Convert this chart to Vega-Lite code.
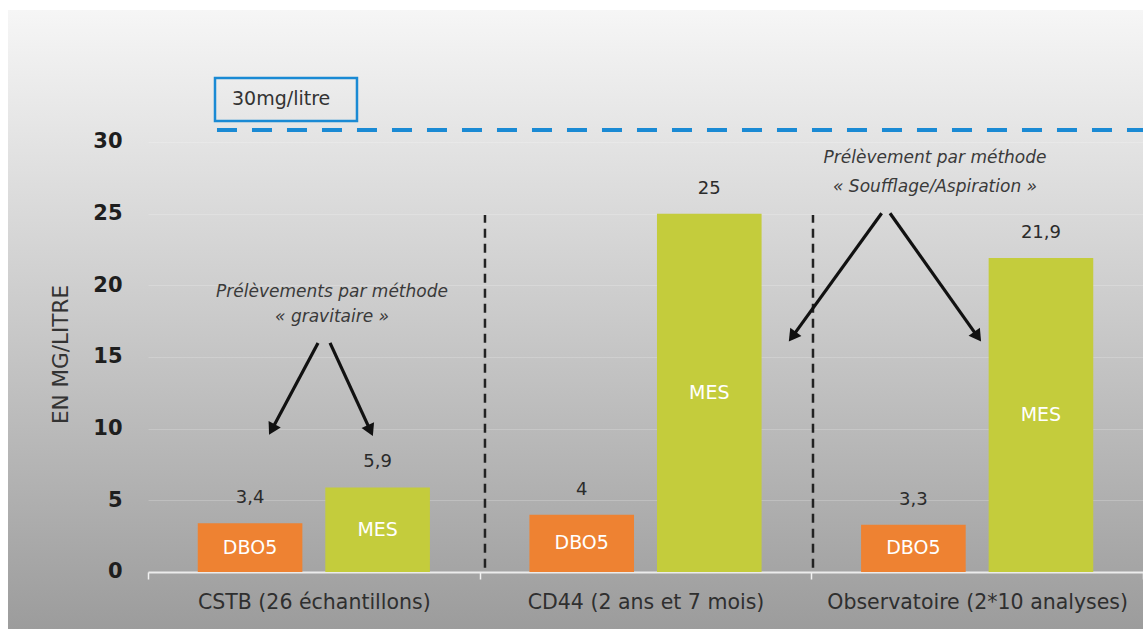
{
  "$schema": "https://vega.github.io/schema/vega-lite/v6.json",
  "width": 1135,
  "height": 619,
  "autosize": {"type": "none"},
  "padding": {"left": 8, "top": 10, "right": 0, "bottom": 0},
  "background": "#ffffff",
  "config": {
    "view": {
      "stroke": null,
      "fill": {
        "gradient": "linear", "x1": 0, "y1": 0, "x2": 0, "y2": 1,
        "stops": [
          {"offset": 0, "color": "#f6f6f6"},
          {"offset": 0.5, "color": "#cacaca"},
          {"offset": 1, "color": "#9c9c9c"}
        ]
      }
    },
    "font": "DejaVu Sans",
    "locale": {"number": {"decimal": ",", "thousands": " ", "grouping": [3], "currency": ["", " €"]}}
  },
  "datasets": {
    "bars": [
      {"site": "CSTB (26 échantillons)", "param": "DBO5", "value": 3.4},
      {"site": "CSTB (26 échantillons)", "param": "MES", "value": 5.9},
      {"site": "CD44 (2 ans et 7 mois)", "param": "DBO5", "value": 4},
      {"site": "CD44 (2 ans et 7 mois)", "param": "MES", "value": 25},
      {"site": "Observatoire (2*10 analyses)", "param": "DBO5", "value": 3.3},
      {"site": "Observatoire (2*10 analyses)", "param": "MES", "value": 21.9}
    ],
    "vlines": [
      {"x": 1.016, "y": 0.3, "y2": 24.9},
      {"x": 2.005, "y": 0.3, "y2": 24.9}
    ],
    "arrows": [
      {"x": 0.5126, "y": 15.98, "x2": 0.3763, "y2": 10.07, "angle": 208},
      {"x": 0.5488, "y": 15.98, "x2": 0.6678, "y2": 10.0, "angle": 155},
      {"x": 2.212, "y": 25.03, "x2": 1.9462, "y2": 16.53, "angle": 216},
      {"x": 2.2372, "y": 25.03, "x2": 2.498, "y2": 16.53, "angle": 145}
    ],
    "notes": [
      {"x": 0.5549, "y": 19.53, "text": "Prélèvements par méthode"},
      {"x": 0.5549, "y": 17.79, "text": "« gravitaire »"},
      {"x": 2.3729, "y": 28.88, "text": "Prélèvement par méthode"},
      {"x": 2.3729, "y": 26.86, "text": "« Soufflage/Aspiration »"}
    ],
    "limit": [
      {"x": 0.208, "x2": 3, "y": 30.84}
    ],
    "box": [
      {"x": 0.202, "x2": 0.6301, "y": 31.47, "y2": 34.47, "label": "30mg/litre", "lx": 0.2533, "ly": 33.0}
    ]
  },
  "layer": [
    {
      "data": {"name": "bars"},
      "mark": {"type": "bar"},
      "encoding": {
        "x": {
          "field": "site", "type": "nominal", "sort": null,
          "scale": {"range": [140, 1135], "paddingInner": 0, "paddingOuter": 0},
          "axis": {
            "orient": "bottom", "offset": -57, "title": null, "labelAngle": 0,
            "labelFontSize": 20.5, "labelColor": "#2f2f2f", "labelPadding": 23,
            "labelBaseline": "middle", "tickBand": "extent", "tickColor": "#f2f2f2",
            "tickSize": 7, "tickWidth": 1.5, "domainColor": "#ececec", "domainWidth": 2,
            "grid": false, "labelLimit": 400
          }
        },
        "xOffset": {
          "field": "param", "type": "nominal", "sort": null,
          "scale": {"paddingInner": 0.18, "paddingOuter": 0.39}
        },
        "y": {
          "field": "value", "type": "quantitative",
          "scale": {"domain": [-3.977, 39.209], "nice": false, "zero": false},
          "axis": {
            "orient": "left", "offset": -120, "values": [0, 5, 10, 15, 20, 25, 30],
            "title": "EN MG/LITRE", "titleFontSize": 21.5, "titleFontWeight": "normal",
            "titleColor": "#333333", "titleX": -67, "titleY": 344, "titleAngle": -90,
            "titleAlign": "center", "titleBaseline": "middle",
            "labelFontSize": 21, "labelFontWeight": "bold", "labelColor": "#1e1e1e",
            "labelPadding": 6, "ticks": false, "domain": false,
            "grid": true, "gridColor": "#ffffff", "gridOpacity": 0.2
          }
        },
        "y2": {"datum": 0},
        "color": {
          "field": "param", "type": "nominal",
          "scale": {"domain": ["DBO5", "MES"], "range": ["#ee8232", "#c4cc3c"]},
          "legend": null
        }
      }
    },
    {
      "data": {"name": "bars"},
      "mark": {"type": "text", "dy": -25, "fontSize": 18, "color": "#2b2b2b"},
      "encoding": {
        "x": {"field": "site", "type": "nominal", "sort": null, "scale": {"range": [140, 1135], "paddingInner": 0, "paddingOuter": 0}, "axis": null},
        "xOffset": {"field": "param", "type": "nominal", "sort": null, "scale": {"paddingInner": 0.18, "paddingOuter": 0.39}},
        "y": {"field": "value", "type": "quantitative", "scale": {"domain": [-3.977, 39.209], "nice": false, "zero": false}, "axis": null},
        "text": {"field": "value", "type": "quantitative", "format": ".1~f"}
      }
    },
    {
      "data": {"name": "bars"},
      "mark": {"type": "text", "fontSize": 19, "color": "#ffffff"},
      "encoding": {
        "x": {"field": "site", "type": "nominal", "sort": null, "scale": {"range": [140, 1135], "paddingInner": 0, "paddingOuter": 0}, "axis": null},
        "xOffset": {"field": "param", "type": "nominal", "sort": null, "scale": {"paddingInner": 0.18, "paddingOuter": 0.39}},
        "y": {"field": "value", "type": "quantitative", "scale": {"domain": [-7.954, 78.418], "nice": false, "zero": false}, "axis": null},
        "text": {"field": "param", "type": "nominal"}
      }
    },
    {
      "data": {"name": "vlines"},
      "mark": {"type": "rule", "color": "#222222", "strokeWidth": 2.5, "strokeDash": [9, 6]},
      "encoding": {
        "x": {"field": "x", "type": "quantitative", "scale": {"domain": [0, 3], "range": [140, 1135], "nice": false, "zero": false}, "axis": null},
        "y": {"field": "y", "type": "quantitative", "scale": {"domain": [-3.977, 39.209], "nice": false, "zero": false}, "axis": null},
        "y2": {"field": "y2"}
      }
    },
    {
      "data": {"name": "limit"},
      "mark": {"type": "rule", "color": "#1a8ad4", "strokeWidth": 4, "strokeDash": [20, 15]},
      "encoding": {
        "x": {"field": "x", "type": "quantitative", "scale": {"domain": [0, 3], "range": [140, 1135], "nice": false, "zero": false}, "axis": null},
        "x2": {"field": "x2"},
        "y": {"field": "y", "type": "quantitative", "scale": {"domain": [-3.977, 39.209], "nice": false, "zero": false}, "axis": null}
      }
    },
    {
      "data": {"name": "box"},
      "mark": {"type": "rect", "fill": null, "fillOpacity": 0, "stroke": "#1a8ad4", "strokeWidth": 2.5},
      "encoding": {
        "x": {"field": "x", "type": "quantitative", "scale": {"domain": [0, 3], "range": [140, 1135], "nice": false, "zero": false}, "axis": null},
        "x2": {"field": "x2"},
        "y": {"field": "y", "type": "quantitative", "scale": {"domain": [-3.977, 39.209], "nice": false, "zero": false}, "axis": null},
        "y2": {"field": "y2"}
      }
    },
    {
      "data": {"name": "box"},
      "mark": {"type": "text", "align": "left", "baseline": "middle", "fontSize": 19, "color": "#333333"},
      "encoding": {
        "x": {"field": "lx", "type": "quantitative", "scale": {"domain": [0, 3], "range": [140, 1135], "nice": false, "zero": false}, "axis": null},
        "y": {"field": "ly", "type": "quantitative", "scale": {"domain": [-3.977, 39.209], "nice": false, "zero": false}, "axis": null},
        "text": {"field": "label", "type": "nominal"}
      }
    },
    {
      "data": {"name": "arrows"},
      "mark": {"type": "rule", "color": "#111111", "strokeWidth": 3.2},
      "encoding": {
        "x": {"field": "x", "type": "quantitative", "scale": {"domain": [0, 3], "range": [140, 1135], "nice": false, "zero": false}, "axis": null},
        "x2": {"field": "x2"},
        "y": {"field": "y", "type": "quantitative", "scale": {"domain": [-3.977, 39.209], "nice": false, "zero": false}, "axis": null},
        "y2": {"field": "y2"}
      }
    },
    {
      "data": {"name": "arrows"},
      "mark": {"type": "point", "shape": "triangle", "filled": true, "size": 190, "color": "#111111", "opacity": 1},
      "encoding": {
        "x": {"field": "x2", "type": "quantitative", "scale": {"domain": [0, 3], "range": [140, 1135], "nice": false, "zero": false}, "axis": null},
        "y": {"field": "y2", "type": "quantitative", "scale": {"domain": [-3.977, 39.209], "nice": false, "zero": false}, "axis": null},
        "angle": {"field": "angle", "type": "quantitative", "scale": null}
      }
    },
    {
      "data": {"name": "notes"},
      "mark": {"type": "text", "fontSize": 17, "fontStyle": "italic", "color": "#3a3a3a", "baseline": "middle"},
      "encoding": {
        "x": {"field": "x", "type": "quantitative", "scale": {"domain": [0, 3], "range": [140, 1135], "nice": false, "zero": false}, "axis": null},
        "y": {"field": "y", "type": "quantitative", "scale": {"domain": [-3.977, 39.209], "nice": false, "zero": false}, "axis": null},
        "text": {"field": "text", "type": "nominal"}
      }
    }
  ],
  "resolve": {"scale": {"x": "independent", "y": "independent"}, "axis": {"x": "independent", "y": "independent"}}
}
